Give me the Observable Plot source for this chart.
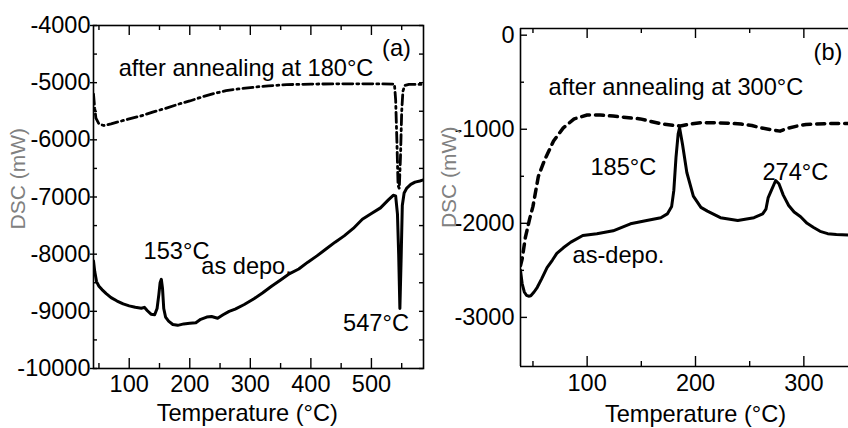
<!DOCTYPE html>
<html>
<head>
<meta charset="utf-8">
<script src="https://cdn.jsdelivr.net/npm/d3@7"></script>
<script src="https://cdn.jsdelivr.net/npm/@observablehq/plot@0.6"></script>
<style>
  html, body { margin: 0; padding: 0; background: #fff; overflow: hidden; }
  #wrap { position: relative; width: 848px; height: 428px; }
  #wrap > div { position: absolute; top: 0; }
  #pa { left: 0; }
  #pb { left: 430px; }
</style>
</head>
<body>
<div id="wrap"><div id="pa"></div><div id="pb"></div></div>
<script>
// ---------- Panel (a) data ----------
const tempA_asdepo = [41, 43, 46, 50, 55, 62, 70, 80, 90, 100, 110, 120, 125, 130, 136, 142, 146, 149, 151, 153, 155, 157, 160, 165, 172, 180, 190, 200, 210, 218, 228, 236, 246, 255, 265, 275, 290, 306, 320, 335, 350, 365, 380, 395, 410, 425, 440, 455, 470, 485, 500, 515, 528, 536, 540, 543, 545, 547, 549, 551, 554, 558, 565, 572, 580, 586];
const dscA_asdepo = [-8120, -8300, -8480, -8560, -8620, -8690, -8760, -8820, -8870, -8905, -8930, -8945, -8930, -8990, -9050, -9060, -8950, -8700, -8500, -8440, -8600, -8950, -9100, -9170, -9230, -9245, -9220, -9210, -9200, -9140, -9100, -9090, -9120, -9060, -9000, -8960, -8880, -8780, -8680, -8560, -8450, -8340, -8260, -8140, -8030, -7910, -7790, -7680, -7550, -7390, -7290, -7190, -7050, -6970, -6980, -7300, -8000, -8950, -8100, -7150, -6930, -6850, -6780, -6740, -6720, -6700];
const tempA_annealed = [41, 43, 45, 50, 58, 70, 80, 100, 120, 140, 160, 180, 200, 220, 240, 260, 280, 300, 330, 360, 400, 450, 500, 538, 540, 542, 544, 546, 548, 550, 552, 555, 562, 570, 586];
const dscA_annealed = [-5200, -5450, -5620, -5720, -5750, -5720, -5690, -5635, -5580, -5510, -5450, -5380, -5320, -5250, -5190, -5140, -5110, -5085, -5055, -5035, -5025, -5020, -5020, -5025, -5300, -6000, -6800, -6850, -6300, -5500, -5150, -5050, -5030, -5030, -5030];
const xTicksA = [100, 200, 300, 400, 500];
const xMinorA = [50, 150, 250, 350, 450, 550];
const yTicksA = [-10000, -9000, -8000, -7000, -6000, -5000, -4000];
const yMinorA = [-9500, -8500, -7500, -6500, -5500, -4500];
const labelsA = ["after annealing at 180°C", "(a)", "153°C", "as depo.", "547°C"];

// ---------- Panel (b) data ----------
const tempB_asdepo = [38.5, 40, 42, 44, 46, 48, 51, 54, 58, 63, 68, 72, 78, 85, 96, 109, 124, 140, 155, 168, 174, 178, 180, 182, 184, 185.3, 188, 192, 198, 205, 211, 223, 239, 254, 262, 265, 267, 270, 274, 277, 281, 286, 291, 297, 303, 309, 315, 322, 330, 341];
const dscB_asdepo = [-2500, -2640, -2730, -2765, -2775, -2770, -2730, -2680, -2590, -2470, -2390, -2320, -2260, -2200, -2130, -2110, -2080, -2005, -1970, -1940, -1900, -1820, -1650, -1300, -1050, -985, -1160, -1460, -1710, -1830, -1870, -1940, -1970, -1940, -1900, -1850, -1730, -1650, -1545, -1580, -1700, -1810, -1880, -1930, -2000, -2045, -2085, -2110, -2120, -2125];
const tempB_annealed = [38.5, 40, 43, 47, 50, 55, 61, 69, 78, 88, 100, 112, 124, 136, 149, 160, 170, 180, 186, 195, 205, 217, 230, 242, 252, 260, 270, 278, 285, 294, 302, 310, 320, 330, 341];
const dscB_annealed = [-2450, -2380, -2150, -1950, -1820, -1500, -1320, -1125, -985, -890, -848, -848, -860, -875, -890, -920, -945, -960, -965, -945, -930, -930, -935, -945, -960, -985, -1005, -1020, -990, -965, -950, -945, -940, -940, -940];
const xTicksB = [100, 200, 300];
const xMinorB = [50, 150, 250];
const yTicksB = [-3000, -2000, -1000, 0];
const yMinorB = [-2500, -1500, -500];
const labelsB = ["after annealing at 300°C", "(b)", "185°C", "274°C", "as-depo."];

const yTitle = "DSC (mW)";
const xTitle = "Temperature (°C)";

const FONT = "Arial, 'Liberation Sans', sans-serif";
const zip = (xs, ys) => xs.map((x, i) => ({t: x, v: ys[i]}));
const fmt = d => String(d).replace("−", "-");

// ---------- Panel (a) ----------
{
  const W = 430, H = 428, mL = 93, mR = 7, mT = 25, mB = 60;
  const pw = W - mL - mR, ph = H - mT - mB;
  const xDom = [41, 586], yDom = [-10000, -4000];
  const txt = (s, x, y) => Plot.text([s], {x, y, text: d => d, textAnchor: "start", lineAnchor: "bottom", fontSize: 23.6});
  const fig = Plot.plot({
    width: W, height: H,
    marginLeft: mL, marginRight: mR, marginTop: mT, marginBottom: mB,
    style: {fontFamily: FONT, fontSize: "23px", color: "#000", background: "#fff", overflow: "visible"},
    x: {domain: xDom},
    y: {domain: yDom},
    marks: [
      Plot.frame({stroke: "#000", strokeWidth: 1.6}),
      Plot.tickX(xTicksA, {x: d => d, insetTop: ph - 10, strokeWidth: 1.4}),
      Plot.tickX(xMinorA, {x: d => d, insetTop: ph - 5, strokeWidth: 1.4}),
      Plot.tickX(xTicksA, {x: d => d, insetBottom: ph - 10, strokeWidth: 1.4}),
      Plot.tickX(xMinorA, {x: d => d, insetBottom: ph - 5, strokeWidth: 1.4}),
      Plot.tickY(yTicksA, {y: d => d, insetRight: pw - 4, strokeWidth: 1.4}),
      Plot.tickY(yMinorA, {y: d => d, insetRight: pw - 4, strokeWidth: 1.4}),
      Plot.tickY(yTicksA.concat(yMinorA), {y: d => d, insetLeft: pw - 4, strokeWidth: 1.4}),
      Plot.axisX({ticks: xTicksA, tickSize: 0, tickPadding: 7, fontSize: 23.5, label: null}),
      Plot.axisY({ticks: yTicksA, tickSize: 3, tickPadding: 0, fontSize: 23.5, tickFormat: fmt, label: null, strokeWidth: 1.4}),
      Plot.line(zip(tempA_annealed, dscA_annealed), {x: "t", y: "v", stroke: "#000", strokeWidth: 2.8, strokeDasharray: "10,4,2,4", clip: true}),
      Plot.line(zip(tempA_asdepo, dscA_asdepo), {x: "t", y: "v", stroke: "#000", strokeWidth: 3, strokeLinejoin: "round", clip: true}),
      txt(labelsA[0], 82.5, -4876),
      txt(labelsA[1], 517.5, -4525),
      txt(labelsA[2], 123.7, -8080),
      txt(labelsA[3], 219, -8342),
      txt(labelsA[4], 453.2, -9340),
      Plot.text([xTitle], {x: 295, frameAnchor: "bottom", dy: 52, text: d => d, textAnchor: "middle", lineAnchor: "bottom", fontSize: 23.6}),
      Plot.text([yTitle], {y: -6679, frameAnchor: "left", dx: -75, rotate: -90, text: d => d, textAnchor: "middle", lineAnchor: "middle", fill: "#808080", fontSize: 21})
    ]
  });
  document.getElementById("pa").appendChild(fig);
}

// ---------- Panel (b) ----------
{
  const W = 418, H = 428, mL = 90, mR = 0, mT = 28, mB = 62;
  const pw = W - mL - mR, ph = H - mT - mB;
  const xDom = [38.5, 341.2], yDom = [-3522, 71];
  const txt = (s, x, y) => Plot.text([s], {x, y, text: d => d, textAnchor: "start", lineAnchor: "bottom", fontSize: 23.6});
  const fig = Plot.plot({
    width: W, height: H,
    marginLeft: mL, marginRight: mR, marginTop: mT, marginBottom: mB,
    style: {fontFamily: FONT, fontSize: "23px", color: "#000", background: "#fff", overflow: "visible"},
    x: {domain: xDom},
    y: {domain: yDom},
    marks: [
      Plot.ruleX([xDom[0]], {strokeWidth: 1.6}),
      Plot.ruleY([yDom[0], yDom[1]], {strokeWidth: 1.6}),
      Plot.tickX(xTicksB, {x: d => d, insetTop: ph - 10, strokeWidth: 1.4}),
      Plot.tickX(xMinorB, {x: d => d, insetTop: ph - 5, strokeWidth: 1.4}),
      Plot.tickX(xTicksB, {x: d => d, insetBottom: ph - 10, strokeWidth: 1.4}),
      Plot.tickX(xMinorB, {x: d => d, insetBottom: ph - 5, strokeWidth: 1.4}),
      Plot.tickY(yTicksB, {y: d => d, insetRight: pw - 7, strokeWidth: 1.4}),
      Plot.tickY(yMinorB, {y: d => d, insetRight: pw - 4, strokeWidth: 1.4}),
      Plot.axisX({ticks: xTicksB, tickSize: 0, tickPadding: 8, fontSize: 23.5, label: null}),
      Plot.axisY({ticks: yTicksB, tickSize: 0, tickPadding: 6, fontSize: 23.5, tickFormat: fmt, label: null}),
      Plot.line(zip(tempB_annealed, dscB_annealed), {x: "t", y: "v", stroke: "#000", strokeWidth: 3.5, strokeDasharray: "8,6", clip: true}),
      Plot.line(zip(tempB_asdepo, dscB_asdepo), {x: "t", y: "v", stroke: "#000", strokeWidth: 3, strokeLinejoin: "round", clip: true}),
      txt(labelsB[0], 64.4, -638),
      txt(labelsB[1], 309, -266),
      txt(labelsB[2], 103.1, -1490),
      txt(labelsB[3], 261.8, -1543),
      txt(labelsB[4], 86.5, -2426),
      Plot.text([xTitle], {x: 200, frameAnchor: "bottom", dy: 55, text: d => d, textAnchor: "middle", lineAnchor: "bottom", fontSize: 23.6}),
      Plot.text([yTitle], {y: -1511, frameAnchor: "left", dx: -71, rotate: -90, text: d => d, textAnchor: "middle", lineAnchor: "middle", fill: "#808080", fontSize: 21})
    ]
  });
  document.getElementById("pb").appendChild(fig);
}
</script>
</body>
</html>
